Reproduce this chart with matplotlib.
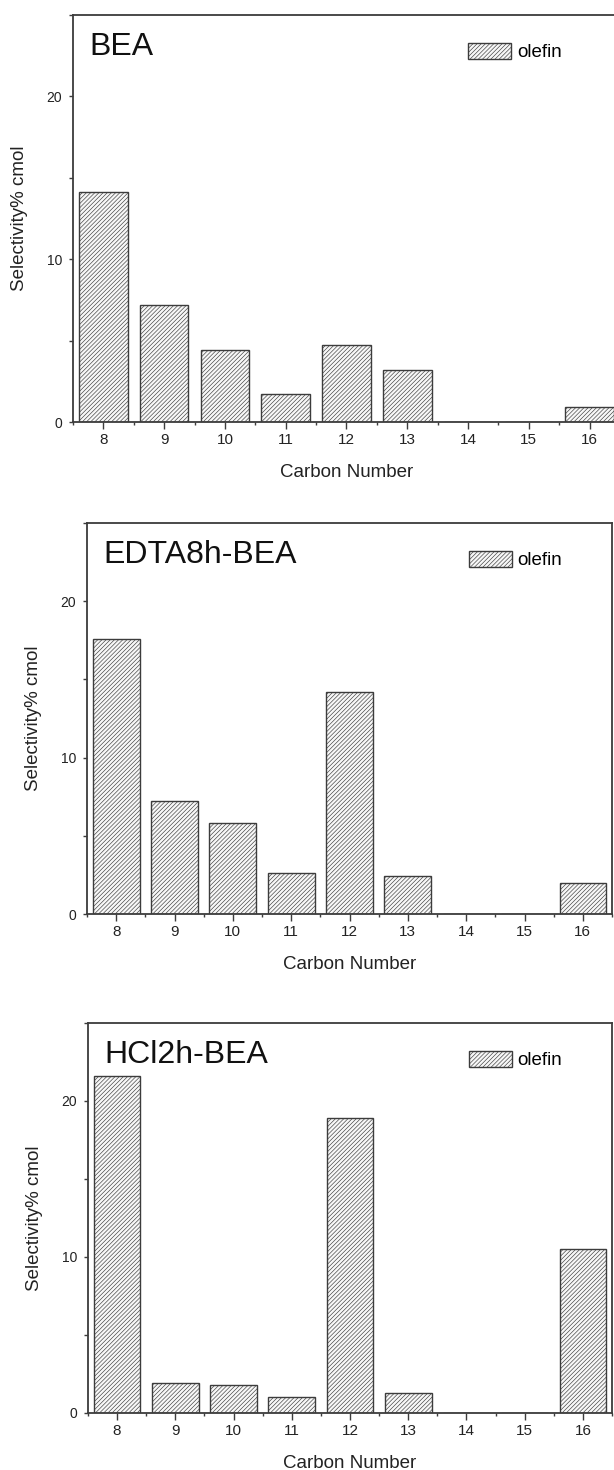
import matplotlib
matplotlib.use("Agg")
import matplotlib.pyplot as plt
from matplotlib.ticker import MultipleLocator

plt.rcParams['font.family'] = ['Liberation Sans', 'DejaVu Sans']
plt.rcParams['hatch.linewidth'] = 0.45
plt.rcParams['hatch.color'] = '#a6a6a6'

# olefin selectivity by carbon number for each catalyst
carbon = [8, 9, 10, 11, 12, 13, 14, 15, 16]
bea = [14.1, 7.2, 4.4, 1.7, 4.7, 3.2, 0, 0, 0.9]
edta8h_bea = [17.6, 7.2, 5.8, 2.6, 14.2, 2.4, 0, 0, 2.0]
hcl2h_bea = [21.6, 1.9, 1.8, 1.0, 18.9, 1.3, 0, 0, 10.5]

titles = ['BEA', 'EDTA8h-BEA', 'HCl2h-BEA']
series = [bea, edta8h_bea, hcl2h_bea]

W, H = 614, 1470
# axes boxes in pixels: left, top, right, bottom
boxes = [(73, 15, 620, 422),
         (87, 523, 612, 914),
         (88, 1023, 612, 1413)]

fig = plt.figure(figsize=(W / 100, H / 100), dpi=100)
edge = '#3c3c3c'

for (l, t, r, b), vals, name in zip(boxes, series, titles):
    ax = fig.add_axes([l / W, 1 - b / H, (r - l) / W, (b - t) / H])
    ax.bar(carbon, vals, width=0.8, facecolor='#f7f7f7', edgecolor=edge,
           linewidth=1.0, hatch='////////', label='olefin', zorder=2)
    ax.set_xlim(7.5, 16.5)
    ax.set_ylim(0, 25)
    ax.xaxis.set_major_locator(MultipleLocator(1))
    ax.xaxis.set_minor_locator(MultipleLocator(0.5))
    ax.yaxis.set_major_locator(MultipleLocator(10))
    ax.yaxis.set_minor_locator(MultipleLocator(5))
    ax.tick_params(axis='x', which='major', direction='out', length=5,
                   width=1, labelsize=11, pad=3, colors=edge, labelcolor='#222')
    ax.tick_params(axis='x', which='minor', direction='out', length=2.5,
                   width=1, colors=edge)
    ax.tick_params(axis='y', which='both', direction='out', length=3,
                   width=1, labelsize=10, pad=5, colors=edge, labelcolor='#222')
    for sp in ax.spines.values():
        sp.set_color(edge)
        sp.set_linewidth(1.3)
    ax.set_xlabel('Carbon Number', fontsize=13.5, color='#222')
    ax.xaxis.set_label_coords(0.5, -42 / (b - t))
    ax.set_ylabel('Selectivity% cmol', fontsize=13.5, color='#222')
    ax.yaxis.set_label_coords(-45 / (r - l), 0.5)
    ax.text(16 / (r - l), 1 - 40 / (b - t), name, transform=ax.transAxes,
            fontsize=23, color='#111', va='baseline', ha='left')
    leg = ax.legend(loc='upper left', bbox_to_anchor=((466 - l) / (r - l) - 0.02, 1 - 15 / (b - t)),
                    frameon=False, fontsize=13.5, handlelength=2.3,
                    handleheight=0.9, handletextpad=0.3, borderpad=0.2)

fig.savefig('out.png', dpi=100)
